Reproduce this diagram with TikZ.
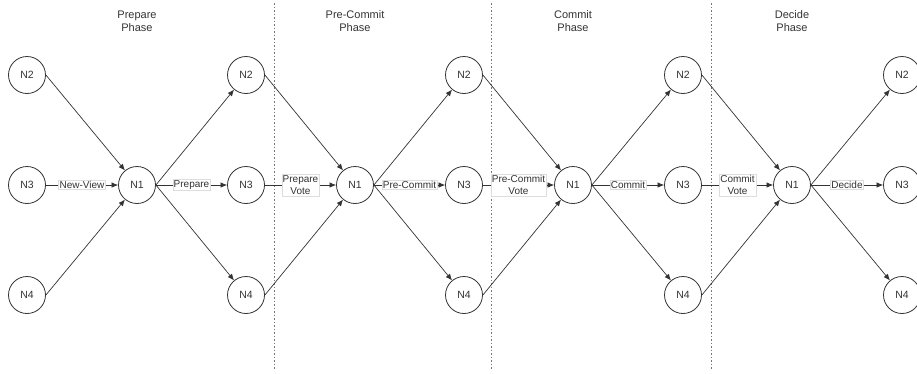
\documentclass[tikz,border=0pt]{standalone}
\usepackage{fontspec}
\setmainfont{Liberation Sans}
\usetikzlibrary{arrows.meta}

\definecolor{ink}{HTML}{333333}
\definecolor{sep}{HTML}{777777}
\definecolor{frame}{HTML}{DDDDDD}

\tikzset{
    peer/.style={circle, draw=ink, line width=0.8pt, minimum size=37pt, inner sep=0pt,
        text=ink, font=\fontsize{10.5}{12}\selectfont},
    msg/.style={draw=ink, line width=0.7pt, -{Latex[length=6.5pt,width=5.5pt]}},
    tag/.style={midway, fill=white, draw=frame, line width=0.4pt, inner sep=1pt,
        align=center, text=ink, font=\fontsize{10}{12.5}\selectfont},
    phase/.style={align=center, text=ink, font=\fontsize{11}{13}\selectfont},
    border/.style={draw=sep, line width=0.9pt, dash pattern=on 1.5pt off 2pt}
}

\begin{document}
\begin{tikzpicture}[x=1pt, y=-1pt]
    \useasboundingbox (0,0) rectangle (917,373);

%%   phase titles
    \node[phase] (t1) at (137,21) {Prepare\\Phase};
    \node[phase] (t2) at (355,21) {Pre-Commit\\Phase};
    \node[phase] (t3) at (573,21) {Commit\\Phase};
    \node[phase] (t4) at (792,21) {Decide\\Phase};

%%   phase borders
    \draw[border] (274,3) -- (274,370);
    \draw[border] (491,3) -- (491,370);
    \draw[border] (711,3) -- (711,370);

%%   kw   (name)   (x, y)   {text}
    \node[peer] (a2) at (27,75)  {N2};
    \node[peer] (a3) at (27,185) {N3};
    \node[peer] (a4) at (27,295) {N4};
    \node[peer] (l1) at (137,185) {N1};

    \node[peer] (b2) at (246,75)  {N2};
    \node[peer] (b3) at (246,185) {N3};
    \node[peer] (b4) at (246,295) {N4};
    \node[peer] (l2) at (355,185) {N1};

    \node[peer] (c2) at (464,75)  {N2};
    \node[peer] (c3) at (464,185) {N3};
    \node[peer] (c4) at (464,295) {N4};
    \node[peer] (l3) at (573,185) {N1};

    \node[peer] (d2) at (683,75)  {N2};
    \node[peer] (d3) at (683,185) {N3};
    \node[peer] (d4) at (683,295) {N4};
    \node[peer] (l4) at (792,185) {N1};

    \node[peer] (e2) at (902,75)  {N2};
    \node[peer] (e3) at (902,185) {N3};
    \node[peer] (e4) at (902,295) {N4};

%%   prepare phase
    \draw[msg] (a2.east) -- (l1);
    \draw[msg] (a3.east) -- node[tag] {New-View} (l1.west);
    \draw[msg] (a4.east) -- (l1);
    \draw[msg] (l1.east) -- (b2);
    \draw[msg] (l1.east) -- node[tag] {Prepare} (b3.west);
    \draw[msg] (l1.east) -- (b4);

%%   pre-commit phase
    \draw[msg] (b2.east) -- (l2);
    \draw[msg] (b3.east) -- node[tag] {Prepare\\Vote} (l2.west);
    \draw[msg] (b4.east) -- (l2);
    \draw[msg] (l2.east) -- (c2);
    \draw[msg] (l2.east) -- node[tag] {Pre-Commit} (c3.west);
    \draw[msg] (l2.east) -- (c4);

%%   commit phase
    \draw[msg] (c2.east) -- (l3);
    \draw[msg] (c3.east) -- node[tag] {Pre-Commit\\Vote} (l3.west);
    \draw[msg] (c4.east) -- (l3);
    \draw[msg] (l3.east) -- (d2);
    \draw[msg] (l3.east) -- node[tag] {Commit} (d3.west);
    \draw[msg] (l3.east) -- (d4);

%%   decide phase
    \draw[msg] (d2.east) -- (l4);
    \draw[msg] (d3.east) -- node[tag] {Commit\\Vote} (l4.west);
    \draw[msg] (d4.east) -- (l4);
    \draw[msg] (l4.east) -- (e2);
    \draw[msg] (l4.east) -- node[tag] {Decide} (e3.west);
    \draw[msg] (l4.east) -- (e4);
\end{tikzpicture}
\end{document}
